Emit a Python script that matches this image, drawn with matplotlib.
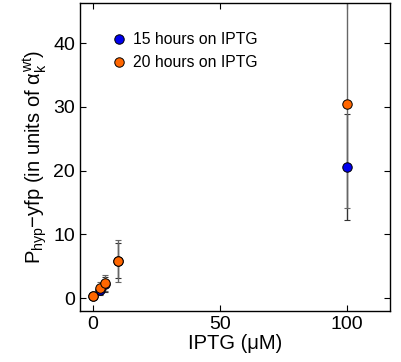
import numpy as np
import matplotlib
matplotlib.use("Agg")
import matplotlib.pyplot as plt

plt.rcParams['font.family'] = ['Liberation Sans', 'DejaVu Sans']
plt.rcParams['mathtext.fontset'] = 'custom'
plt.rcParams['mathtext.rm'] = 'Liberation Sans'
plt.rcParams['mathtext.it'] = 'Liberation Sans'
plt.rcParams['mathtext.sf'] = 'Liberation Sans'

# data
iptg = [0, 3, 5, 10, 100]
mean_15h = [0.3, 1.3, 2.2, 5.9, 20.6]
err_15h = [0.3, 0.8, 1.2, 2.7, 8.3]
mean_20h = [0.4, 1.6, 2.4, 5.85, 30.5]
err_20h = [0.3, 0.9, 1.3, 3.3, 16.3]

blue = '#0000ee'
orange = '#ff6600'

fig = plt.figure(figsize=(4.01, 3.62), dpi=100)
ax = fig.add_axes([80/401, 1-311/362, 310/401, 308/362])

ax.errorbar(iptg, mean_15h, yerr=err_15h, fmt='none', ecolor='0.2',
            elinewidth=1, capsize=2.5, capthick=0.8, zorder=2)
ax.errorbar(iptg, mean_20h, yerr=err_20h, fmt='none', ecolor='0.4',
            elinewidth=1, capsize=2.5, capthick=0.8, zorder=2)
ax.plot(iptg, mean_15h, 'o', color=blue, mec='k', mew=0.7, ms=6.8,
        label='15 hours on IPTG', zorder=3)
ax.plot(iptg, mean_20h, 'o', color=orange, mec='k', mew=0.7, ms=6.8,
        label='20 hours on IPTG', zorder=4)

ax.set_xlim(-5, 117)
ax.set_ylim(-2, 46.3)
ax.set_xticks([0, 50, 100])
ax.set_yticks([0, 10, 20, 30, 40])
ax.tick_params(direction='in', top=True, right=True, labelsize=14, length=4, width=0.8)
for s in ax.spines.values():
    s.set_linewidth(1)

ax.set_xlabel('IPTG (\u03bcM)', fontsize=14.5, labelpad=0.5)
ax.set_ylabel('P$_{\\rm hyp}$\u2212yfp (in units of $\\alpha_{\\rm k}^{\\rm wt}$)',
              fontsize=14.5, labelpad=2)

ax.legend(loc='upper left', bbox_to_anchor=(0.06, 0.94), frameon=False,
          fontsize=11.3, handletextpad=0.3, labelspacing=0.5, borderpad=0.2,
          handlelength=1.2)

fig.savefig('out.png', dpi=100)
